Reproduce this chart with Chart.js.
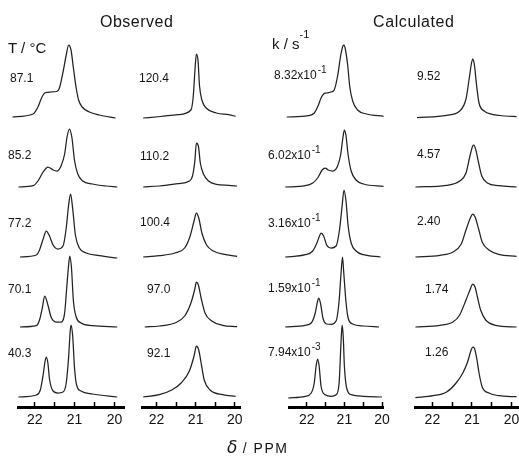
<!DOCTYPE html>
<html><head><meta charset="utf-8">
<script src="https://cdn.jsdelivr.net/npm/chart.js@4.4.0/dist/chart.umd.min.js"></script>
<style>
html,body{margin:0;padding:0;background:#fff;overflow:hidden;width:519px;height:456px;}
#wrap{position:relative;width:519px;height:456px;overflow:hidden;font-family:"Liberation Sans",Arial,sans-serif;color:#151515;}
#wrap canvas{position:absolute;top:0;}
.t{position:absolute;white-space:nowrap;line-height:1;}
.lab{font-size:12px;}
.lab sup{font-size:10px;position:relative;top:-6px;vertical-align:baseline;line-height:0;margin-left:1px;}
</style></head><body><div id="wrap"></div>
<script>
// ---- tick labels / row labels ----
const obsTempLeft  = ['87.1','85.2','77.2','70.1','40.3'];
const obsTempRight = ['120.4','110.2','100.4','97.0','92.1'];
const calcRateLeft = [['8.32','-1'],['6.02','-1'],['3.16','-1'],['1.59','-1'],['7.94','-3']];
const calcRateRight= ['9.52','4.57','2.40','1.74','1.26'];
const ppmTickLabels = [22, 21, 20];

// ---- spectra: [ppm, intensity] ----
const obs87_1 = [[22.56,0],[22.04,3],[21.92,10],[21.83,19],[21.75,24],[21.6,25],[21.45,25.5],[21.38,29],[21.29,45],[21.21,62],[21.15,72],[21.09,67],[21.03,49],[20.96,29],[20.9,17],[20.81,10],[20.63,5],[20.38,2],[19.97,-1]];
const obs85_2 = [[22.41,0],[22.04,1.3],[21.92,6],[21.79,15],[21.67,20],[21.54,17],[21.44,16],[21.34,21],[21.25,33],[21.19,50],[21.13,58],[21.07,50],[21.0,26],[20.92,13],[20.8,6],[20.55,3],[20.22,1],[19.93,0]];
const obs77_2 = [[22.37,0],[21.96,2],[21.88,7],[21.79,18],[21.71,26],[21.63,21],[21.54,12],[21.42,8],[21.29,11],[21.21,29],[21.15,52],[21.1,63],[21.05,49],[20.98,22],[20.88,9],[20.71,4],[20.38,1.3],[19.93,-1]];
const obs70_1 = [[22.37,0],[21.96,1.3],[21.88,7],[21.81,19],[21.75,31],[21.67,22],[21.59,10],[21.46,5],[21.34,5],[21.25,14],[21.2,38],[21.15,62],[21.12,71],[21.08,60],[21.03,26],[20.96,10],[20.84,4],[20.55,1.3],[19.93,0]];
const obs40_3 = [[22.41,0],[21.96,2],[21.86,7],[21.79,22],[21.74,36],[21.71,40],[21.67,34],[21.63,18],[21.54,6],[21.42,4],[21.29,5],[21.21,14],[21.15,40],[21.11,66],[21.09,72],[21.05,62],[21.0,28],[20.95,12],[20.84,6],[20.55,3],[19.93,0]];

const obs120_4 = [[22.34,-1],[21.9,0.5],[21.45,2.3],[21.12,7],[21.06,21],[21.01,51],[20.98,63],[20.94,57],[20.9,31],[20.84,17],[20.73,9],[20.47,4],[20.15,2.3],[19.98,0.7]];
const obs110_2 = [[22.34,0],[21.93,1],[21.45,3.3],[21.16,6],[21.08,11],[21.02,26],[20.98,44],[20.93,41],[20.88,24],[20.8,13],[20.67,6],[20.47,2.7],[20.15,1.7],[19.94,1]];
const obs100_4 = [[22.34,0],[21.93,1.3],[21.53,4],[21.28,9],[21.14,21],[21.04,36],[20.98,44],[20.92,39],[20.84,24],[20.72,12],[20.55,6],[20.23,2.3],[19.94,0.7]];
const obs97_0 = [[22.3,0],[21.93,1],[21.53,4],[21.28,11],[21.12,24],[21.02,38],[20.98,45],[20.93,42],[20.86,29],[20.76,14],[20.59,6],[20.31,1.7],[19.94,0.3]];
const obs92_1 = [[22.34,0],[21.93,2.3],[21.61,7],[21.37,14],[21.16,26],[21.04,41],[20.98,51],[20.92,47],[20.86,34],[20.78,17],[20.63,7],[20.31,2.3],[19.98,0.7]];

const calc832e1 = [[22.53,0],[21.96,1.3],[21.8,4],[21.7,11],[21.62,19],[21.55,23],[21.47,24],[21.35,25],[21.27,27],[21.18,41],[21.1,61],[21.04,71],[21.01,72],[20.98,69],[20.91,51],[20.86,31],[20.78,16],[20.65,7],[20.41,3],[19.96,0.7]];
const calc602e1 = [[22.57,0],[22.04,1.3],[21.84,4],[21.71,9],[21.59,17],[21.51,19],[21.43,17],[21.31,16],[21.18,21],[21.1,32],[21.04,49],[21.0,57],[20.96,52],[20.9,32],[20.82,16],[20.69,7],[20.49,3],[19.96,0.7]];
const calc316e1 = [[22.57,0],[22.04,2.3],[21.84,6],[21.73,14],[21.65,22],[21.62,24],[21.55,21],[21.47,12],[21.35,9],[21.22,11],[21.13,27],[21.06,51],[21.01,67],[20.96,57],[20.9,31],[20.82,14],[20.69,6],[20.49,2.3],[20.04,0]];
const calc159e1 = [[22.57,0],[22.04,1.7],[21.88,4],[21.78,13],[21.71,26],[21.68,29],[21.63,23],[21.57,9],[21.47,3],[21.35,2.7],[21.22,6],[21.14,26],[21.09,53],[21.05,70],[21.02,56],[20.96,26],[20.9,9],[20.78,3],[20.49,1],[20.08,0]];
const calc794e3 = [[22.49,-1],[22.04,0.7],[21.88,4],[21.8,14],[21.75,31],[21.71,38],[21.67,31],[21.62,11],[21.51,2.3],[21.35,0.7],[21.22,2.3],[21.14,14],[21.09,54],[21.06,72],[21.03,60],[21.0,31],[20.94,9],[20.82,2.3],[20.49,0.7],[20.0,0]];

const calc9_52 = [[22.39,-0.7],[21.64,1.7],[21.31,6],[21.15,18],[21.07,38],[21.01,54],[20.98,58],[20.94,53],[20.88,31],[20.82,14],[20.69,6],[20.49,2.7],[20.16,1],[19.87,0.3]];
const calc4_57 = [[22.43,0],[21.64,1.7],[21.31,6],[21.15,14],[21.05,31],[20.98,41],[20.95,42],[20.9,37],[20.83,24],[20.75,11],[20.61,4],[20.32,1.3],[19.87,0]];
const calc2_40 = [[22.43,0],[21.81,1.7],[21.48,5],[21.27,13],[21.15,27],[21.05,38],[20.98,43],[20.92,40],[20.83,28],[20.74,15],[20.57,7],[20.32,2.7],[19.87,0.7]];
const calc1_74 = [[22.43,0],[21.81,1.7],[21.48,5],[21.31,12],[21.15,27],[21.05,37],[20.98,43],[20.92,40],[20.86,30],[20.78,17],[20.65,7],[20.4,1.7],[19.87,0]];
const calc1_26 = [[22.43,-0.7],[21.98,1.3],[21.64,5],[21.4,14],[21.23,24],[21.11,35],[21.02,47],[20.98,50],[20.94,49],[20.88,39],[20.82,24],[20.74,10],[20.57,4],[20.32,1.3],[19.87,0.3]];

const columnSeries = [
  [obs87_1, obs85_2, obs77_2, obs70_1, obs40_3],
  [obs120_4, obs110_2, obs100_4, obs97_0, obs92_1],
  [calc832e1, calc602e1, calc316e1, calc159e1, calc794e3],
  [calc9_52, calc4_57, calc2_40, calc1_74, calc1_26]
];
// axis geometry per column: chart-area left/right px, ppm range
const columnFrames = [
  {L:18,  R:125, min:19.75, max:22.42},
  {L:142, R:245, min:19.86, max:22.37},
  {L:289, R:392, min:19.95, max:22.47},
  {L:415, R:522, min:19.74, max:22.44}
];

const wrap = document.getElementById('wrap');
const PAD = 8, H = 456;

columnFrames.forEach((f, ci) => {
  const cv = document.createElement('canvas');
  const w = f.R - f.L + 2*PAD;
  cv.width = w; cv.height = H;
  cv.style.left = (f.L - PAD) + 'px';
  cv.style.width = w + 'px'; cv.style.height = H + 'px';
  wrap.appendChild(cv);
  const scales = {
    x: {
      type: 'linear', reverse: true, min: f.min, max: f.max, position: 'bottom',
      afterFit: s => { s.height = 40; },
      border: {display: true, color: '#000', width: 3},
      grid: {drawOnChartArea: false, drawTicks: true, tickLength: -5, tickColor: '#000', tickWidth: 1.5},
      ticks: {
        stepSize: 0.5, includeBounds: false, autoSkip: false, maxRotation: 0, padding: 10,
        color: '#111', font: {family: 'Liberation Sans', size: 14},
        callback: v => ppmTickLabels.includes(Math.round(v*100)/100) ? String(Math.round(v)) : ''
      }
    }
  };
  const datasets = [];
  columnSeries[ci].forEach((ser, ri) => {
    scales['y' + ri] = {type: 'linear', display: false, min: -10, max: 60, position: 'left',
      stack: 'rows', stackWeight: 1, weight: 5 - ri};
    datasets.push({
      data: ser.map(p => ({x: p[0], y: p[1]})),
      yAxisID: 'y' + ri, borderColor: '#222', borderWidth: 1.25,
      pointRadius: 0, fill: false, cubicInterpolationMode: 'monotone', clip: false
    });
  });
  new Chart(cv, {
    type: 'line',
    data: {datasets},
    options: {
      responsive: false, animation: false, devicePixelRatio: 1,
      layout: {padding: {left: PAD, right: PAD, top: 57, bottom: 9}},
      plugins: {legend: {display: false}, tooltip: {enabled: false}},
      scales
    }
  });
});

// ---- text ----
function addText(html, left, top, style) {
  const d = document.createElement('div');
  d.className = 't';
  d.innerHTML = html;
  d.style.left = left + 'px'; d.style.top = top + 'px';
  Object.assign(d.style, style || {});
  wrap.appendChild(d);
  return d;
}
addText('Observed', 100, 13.5, {fontSize: '16px', letterSpacing: '0.5px'});
addText('Calculated', 373, 13.5, {fontSize: '16px', letterSpacing: '0.6px'});
addText('T / °C', 8, 39.5, {fontSize: '15px'});
addText('k / s<sup style="font-size:11px;position:relative;top:-5px;line-height:0">-1</sup>', 272, 35.5, {fontSize: '15px'});

const rowCenters = [
  [78,155,223,289,353],
  [78,156,222,289,353],
  [75,155,223,288,352],
  [76,154,221,289,352]
];
const rowLefts = [
  [10,8,8,8,8],
  [139,140,140,147,147],
  [274,268,268,268,268],
  [417,417,417,425,425]
];
for (let r = 0; r < 5; r++) {
  addText(obsTempLeft[r], rowLefts[0][r], rowCenters[0][r] - 6).classList.add('lab');
  addText(obsTempRight[r], rowLefts[1][r], rowCenters[1][r] - 6).classList.add('lab');
  addText(calcRateLeft[r][0] + 'x10<sup>' + calcRateLeft[r][1] + '</sup>', rowLefts[2][r], rowCenters[2][r] - 6).classList.add('lab');
  addText(calcRateRight[r], rowLefts[3][r], rowCenters[3][r] - 6).classList.add('lab');
}
addText('<span style="font-family:\'DejaVu Sans\';font-style:italic;font-size:17px">δ</span><span style="font-size:14px;letter-spacing:1.5px"> / PPM</span>', 227, 439);
</script>
</body></html>
